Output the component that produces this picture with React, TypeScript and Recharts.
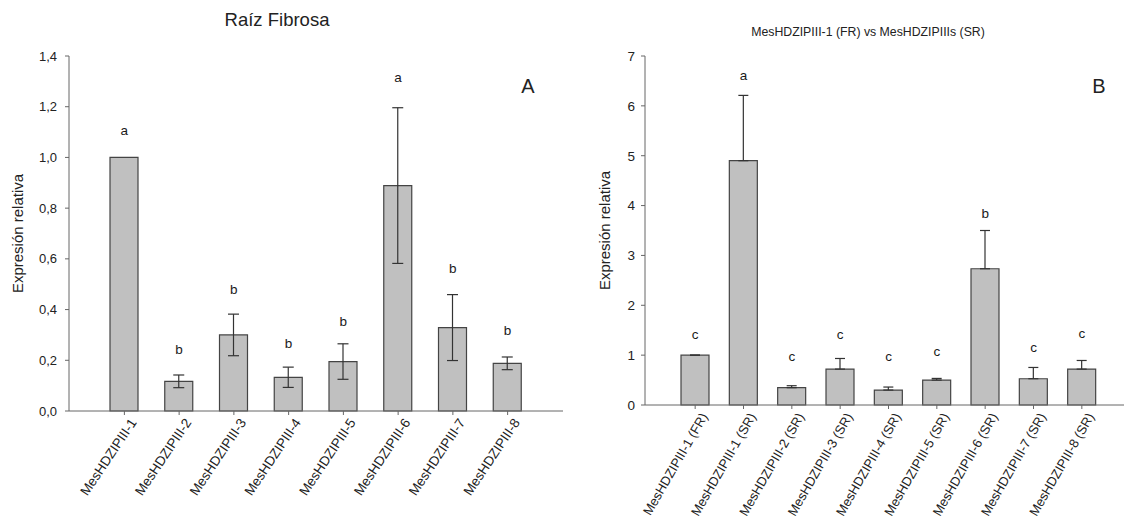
import {
  Bar,
  ComposedChart,
  ErrorBar,
  Scatter,
  XAxis,
  YAxis,
} from 'recharts'

const FONT = '"Liberation Sans", Arial, sans-serif'

// Panel A: fibrous root
const genesA = [
  'MesHDZIPIII-1',
  'MesHDZIPIII-2',
  'MesHDZIPIII-3',
  'MesHDZIPIII-4',
  'MesHDZIPIII-5',
  'MesHDZIPIII-6',
  'MesHDZIPIII-7',
  'MesHDZIPIII-8',
]
const exprA = [1.0, 0.117, 0.3, 0.133, 0.195, 0.889, 0.329, 0.188]
const errA = [0, 0.025, 0.082, 0.04, 0.07, 0.307, 0.13, 0.025]
const lettersA = ['a', 'b', 'b', 'b', 'b', 'a', 'b', 'b']
const letterPosA = [1.108, 0.243, 0.481, 0.268, 0.351, 1.314, 0.561, 0.319]
const ticksA = [0, 0.2, 0.4, 0.6, 0.8, 1.0, 1.2, 1.4]

// Panel B: FR vs SR
const genesB = [
  'MesHDZIPIII-1 (FR)',
  'MesHDZIPIII-1 (SR)',
  'MesHDZIPIII-2 (SR)',
  'MesHDZIPIII-3 (SR)',
  'MesHDZIPIII-4 (SR)',
  'MesHDZIPIII-5 (SR)',
  'MesHDZIPIII-6 (SR)',
  'MesHDZIPIII-7 (SR)',
  'MesHDZIPIII-8 (SR)',
]
const exprB = [1.0, 4.9, 0.347, 0.72, 0.3, 0.5, 2.733, 0.527, 0.72]
const errB = [0, 1.31, 0.04, 0.213, 0.06, 0.033, 0.767, 0.226, 0.173]
const lettersB = ['c', 'a', 'c', 'c', 'c', 'c', 'b', 'c', 'c']
const letterPosB = [1.413, 6.607, 0.967, 1.413, 0.967, 1.067, 3.84, 1.147, 1.427]
const ticksB = [0, 1, 2, 3, 4, 5, 6, 7]

const dataA = genesA.map((name, i) => ({
  name,
  value: exprA[i],
  err: errA[i],
  letter: lettersA[i],
  letterPos: letterPosA[i],
}))

// only the upper error bar is drawn in panel B
const dataB = genesB.map((name, i) => ({
  name,
  value: exprB[i],
  err: [0, errB[i]],
  letter: lettersB[i],
  letterPos: letterPosB[i],
}))

function RotTick(props: any) {
  const { x, y, payload, angle, fontSize } = props
  return (
    <g transform={`translate(${x + 9},${y + 3})`}>
      <text
        x={0}
        y={0}
        textAnchor="end"
        dominantBaseline="central"
        transform={`rotate(${angle})`}
        fontSize={fontSize}
        fontFamily={FONT}
        fill="#222"
      >
        {payload.value}
      </text>
    </g>
  )
}

function LetterShape(props: any) {
  const { cx, cy, payload } = props
  if (cx == null || cy == null) return null
  return (
    <text
      x={cx}
      y={cy}
      textAnchor="middle"
      dominantBaseline="central"
      fontSize={13.5}
      fontFamily={FONT}
      fill="#1a1a1a"
    >
      {payload.letter}
    </text>
  )
}

interface PanelProps {
  data: any[]
  width: number
  yMax: number
  ticks: number[]
  fmt: (v: number) => string
  yAxisWidth: number
  xAxisHeight: number
  tickMargin: number
  pad: { left: number; right: number }
  right: number
  labelOffset: number
  angle: number
  tickFont: number
  yTickFont: number
  capWidth: number
}

function Panel({
  data,
  width,
  yMax,
  ticks,
  fmt,
  yAxisWidth,
  xAxisHeight,
  tickMargin,
  pad,
  right,
  labelOffset,
  angle,
  tickFont,
  yTickFont,
  capWidth,
}: PanelProps) {
  return (
    <ComposedChart
      width={width}
      height={524}
      data={data}
      margin={{ top: 56, right, bottom: 0, left: 0 }}
      style={{ fontFamily: FONT }}
    >
      <XAxis
        dataKey="name"
        interval={0}
        padding={pad}
        height={xAxisHeight}
        tickSize={4}
        stroke="#666"
        tick={(p: any) => <RotTick {...p} angle={angle} fontSize={tickFont} />}
      />
      <XAxis
        xAxisId="top"
        orientation="top"
        dataKey="name"
        height={0}
        tick={false}
        tickLine={false}
        stroke="#999"
      />
      <YAxis
        domain={[0, yMax]}
        ticks={ticks}
        width={yAxisWidth}
        tickSize={4}
        tickMargin={tickMargin}
        stroke="#666"
        tickFormatter={fmt}
        tick={{ fontSize: yTickFont, fill: '#222' }}
        label={{
          value: 'Expresión relativa',
          angle: -90,
          position: 'insideLeft',
          offset: labelOffset,
          style: { textAnchor: 'middle', fontSize: 15, fill: '#222' },
        }}
      />
      <YAxis
        yAxisId="right"
        orientation="right"
        domain={[0, yMax]}
        width={0}
        tick={false}
        tickLine={false}
        stroke="#999"
      />
      <Bar
        dataKey="value"
        barSize={28}
        fill="#c0c0c0"
        stroke="#444"
        strokeWidth={1.2}
        isAnimationActive={false}
      >
        <ErrorBar dataKey="err" width={capWidth} stroke="#333" strokeWidth={1.2} />
      </Bar>
      <Scatter dataKey="letterPos" shape={LetterShape} isAnimationActive={false} />
    </ComposedChart>
  )
}

const abs = (left: number, top: number, fontSize: number): React.CSSProperties => ({
  position: 'absolute',
  left,
  top,
  transform: 'translate(-50%, -50%)',
  fontSize,
  fontFamily: FONT,
  color: '#222',
  whiteSpace: 'nowrap',
})

export default function App() {
  return (
    <div
      style={{
        position: 'absolute',
        left: 0,
        top: 0,
        width: 1127,
        height: 524,
        background: '#fff',
        overflow: 'hidden',
      }}
    >
      <div style={{ position: 'absolute', left: 0, top: 0 }}>
        <Panel
          data={dataA}
          width={570}
          yMax={1.4}
          ticks={ticksA}
          fmt={v => v.toFixed(1).replace('.', ',')}
          yAxisWidth={69}
          xAxisHeight={113}
          tickMargin={8}
          pad={{ left: 28, right: 28 }}
          right={7}
          labelOffset={18}
          angle={-56}
          tickFont={13.5}
          yTickFont={13}
          capWidth={5.5}
        />
      </div>
      <div style={{ position: 'absolute', left: 575, top: 0 }}>
        <Panel
          data={dataB}
          width={552}
          yMax={7}
          ticks={ticksB}
          fmt={v => String(v)}
          yAxisWidth={70}
          xAxisHeight={119}
          tickMargin={6}
          pad={{ left: 26, right: 18 }}
          right={3}
          labelOffset={30}
          angle={-60}
          tickFont={13}
          yTickFont={13.5}
          capWidth={5}
        />
      </div>
      <div style={abs(277, 20, 18.5)}>Raíz Fibrosa</div>
      <div style={abs(868, 32, 12.3)}>MesHDZIPIII-1 (FR) vs MesHDZIPIIIs (SR)</div>
      <div style={abs(528, 86, 20)}>A</div>
      <div style={abs(1099, 86, 20)}>B</div>
    </div>
  )
}
